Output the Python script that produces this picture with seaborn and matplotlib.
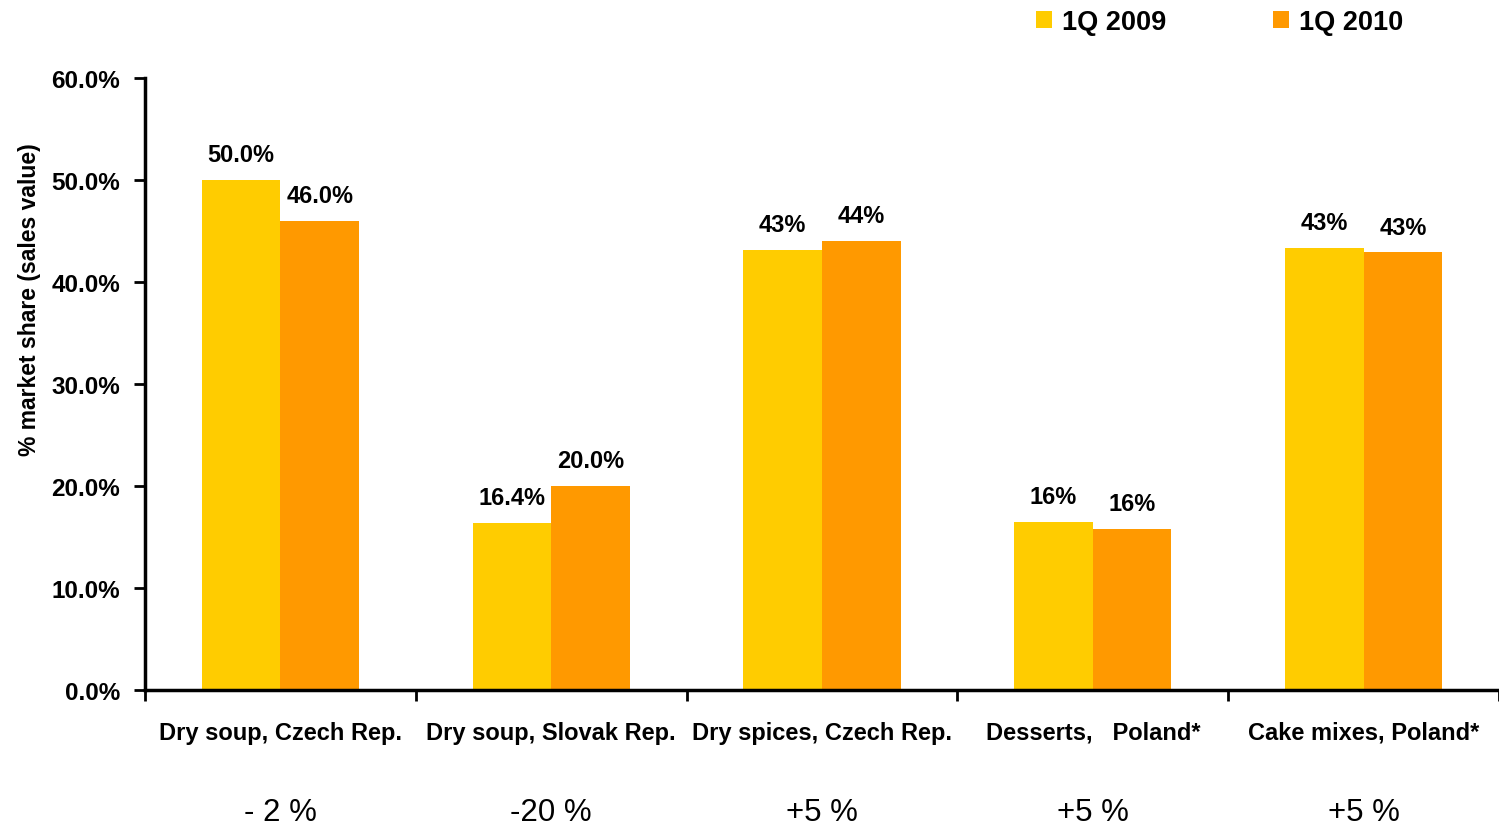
import matplotlib
matplotlib.use("Agg")
import matplotlib.pyplot as plt
import seaborn as sns
import pandas as pd
from matplotlib.ticker import FixedLocator, FuncFormatter

categories = ["Dry soup, Czech Rep.", "Dry soup, Slovak Rep.", "Dry spices, Czech Rep.",
              "Desserts,   Poland*", "Cake mixes, Poland*"]
series_names = ["1Q 2009", "1Q 2010"]
values_2009 = [50.0, 16.4, 43.1, 16.5, 43.3]
values_2010 = [46.0, 20.0, 44.0, 15.8, 42.9]
labels_2009 = ["50.0%", "16.4%", "43%", "16%", "43%"]
labels_2010 = ["46.0%", "20.0%", "44%", "16%", "43%"]
changes = ["- 2 %", "-20 %", "+5 %", "+5 %", "+5 %"]
colors = ["#FFCC00", "#FF9900"]

df = pd.DataFrame({
    "category": categories * 2,
    "series": [series_names[0]] * 5 + [series_names[1]] * 5,
    "value": values_2009 + values_2010,
})

sns.set_style("white")
plt.rcParams["font.family"] = ["Liberation Sans", "DejaVu Sans"]
plt.rcParams["text.color"] = "black"
plt.rcParams["axes.labelcolor"] = "black"
plt.rcParams["xtick.color"] = "black"
plt.rcParams["ytick.color"] = "black"

fig = plt.figure(figsize=(14.99, 8.28), dpi=100)
ax = fig.add_axes([0.0967, 0.1655, 0.9033, 0.7391])

sns.barplot(data=df, x="category", y="value", hue="series", palette=colors,
            width=0.58, gap=0, ax=ax, saturation=1, errorbar=None, legend=True,
            linewidth=0, edgecolor="none")

ax.set_ylim(0, 60)
ax.set_xlim(-0.5, 4.5)
ax.yaxis.set_major_locator(FixedLocator([0, 10, 20, 30, 40, 50, 60]))
ax.yaxis.set_major_formatter(FuncFormatter(lambda v, p: f"{v:.1f}%"))
for lab in ax.get_yticklabels():
    lab.set_fontweight("bold")
    lab.set_fontsize(17.5)
ax.tick_params(axis="y", direction="out", length=8, width=2, left=True, pad=10, colors="black")

ax.set_xticks(range(5))
ax.set_xticklabels(categories, fontsize=17, fontweight="bold")
ax.tick_params(axis="x", which="major", length=0, pad=22)
ax.set_xticks([-0.5, 0.5, 1.5, 2.5, 3.5, 4.5], minor=True)
ax.tick_params(axis="x", which="minor", direction="out", length=8, width=2, bottom=True)

for s in ["top", "right"]:
    ax.spines[s].set_visible(False)
for s in ["left", "bottom"]:
    ax.spines[s].set_linewidth(2.5)
    ax.spines[s].set_color("black")

ax.set_xlabel("")
ax.set_ylabel("% market share (sales value)", fontsize=16.5, fontweight="bold")
ax.yaxis.set_label_coords(-0.0765, 0.639)

for cont, labs in zip(ax.containers, [labels_2009, labels_2010]):
    ax.bar_label(cont, labels=labs, padding=10, fontsize=17, fontweight="bold")

for i, c in enumerate(changes):
    ax.text(i, -0.199, c, transform=ax.get_xaxis_transform(), ha="center", va="center", fontsize=22.5)

ax.legend(loc="lower left", bbox_to_anchor=(0.65, 1.053), ncol=2, frameon=False,
          prop={"weight": "bold", "size": 19.5}, handlelength=0.6, handleheight=0.6,
          handletextpad=0.35, columnspacing=3.95, borderaxespad=0)

fig.savefig("out.png", dpi=100)
